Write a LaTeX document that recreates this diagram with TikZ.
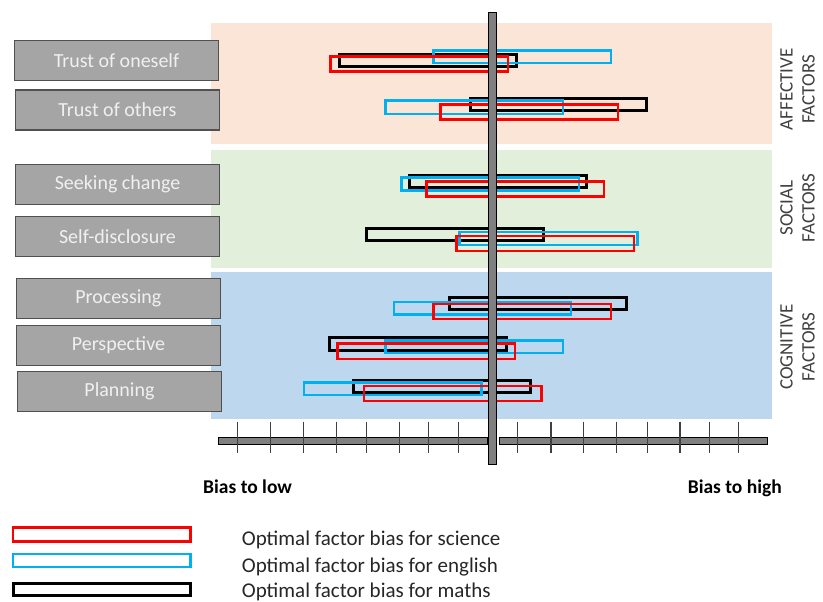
\documentclass[tikz,border=0pt]{standalone}
\usepackage{fontspec}
\setmainfont{Carlito}
\definecolor{affbg}{HTML}{FBE5D6}
\definecolor{socbg}{HTML}{E2EFDA}
\definecolor{cogbg}{HTML}{BDD7EE}
\definecolor{boxfill}{HTML}{A5A5A5}
\definecolor{boxline}{HTML}{505050}
\definecolor{scired}{HTML}{FF0000}
\definecolor{engblue}{HTML}{00B0F0}
\definecolor{axisgray}{HTML}{808080}
\definecolor{tickgray}{HTML}{404040}
\definecolor{grouptext}{HTML}{404040}
\definecolor{legtext}{HTML}{262626}

\begin{document}
\begin{tikzpicture}
			[x=1pt,y=-1pt,every node/.style={inner sep=0pt},
			factor/.style={draw=boxline,fill=boxfill,line width=1.2pt,minimum width=204pt,minimum height=40pt,text=white!94!black,font=\fontsize{20}{22}\selectfont},
			sci/.style={draw=scired,line width=2.5pt},
			eng/.style={draw=engblue,line width=2.5pt},
			mat/.style={draw=black,line width=3pt},
			group/.style={rotate=90,align=center,text=grouptext,font=\fontsize{19}{22}\selectfont},
			axis/.style={draw=black,fill=axisgray,line width=1pt},
			tick/.style={draw=tickgray,line width=1.3pt}]
			\useasboundingbox (0,0) rectangle (823,602);
			% backgrounds
			\fill[affbg] (211,23) rectangle (771.7,144);
			\fill[socbg] (211,150) rectangle (771.7,268);
			\fill[cogbg] (211,272) rectangle (771.7,419);
			
			\node[factor] (oneself) at (116.5,60.4) {Trust of oneself};
			\node[factor] (others) at (117.5,110) {Trust of others};
			\node[factor] (change) at (117.5,184.3) {Seeking change};
			\node[factor] (disclose) at (117.5,236.2) {Self-disclosure};
			\node[factor] (process) at (118.3,298.7) {Processing};
			\node[factor] (persp) at (118.5,345.3) {Perspective};
			\node[factor] (plan) at (119.5,391.2) {Planning};
			
			\node[group] (affective) at (797.5,89.5) {AFFECTIVE\\FACTORS};
			\node[group] (social) at (797.5,208) {SOCIAL\\FACTORS};
			\node[group] (cognitive) at (797.5,347) {COGNITIVE\\FACTORS};
			
			% maths
			\draw[mat] (339.8,54.2) rectangle (516.8,66.2);
			\draw[mat] (470.8,98.8) rectangle (646.8,110.8);
			\draw[mat] (409.5,175.5) rectangle (586.5,187.8);
			\draw[mat] (366.5,228.8) rectangle (543.5,240.8);
			\draw[mat] (449.5,297.2) rectangle (626.5,309.5);
			\draw[mat] (329.2,337.8) rectangle (506.2,350.2);
			\draw[mat] (353.5,380.2) rectangle (530.2,392.2);
			% english
			\draw[eng] (433.6,50.6) rectangle (611,62.8);
			\draw[eng] (385.6,100.6) rectangle (562.8,113.8);
			\draw[eng] (401.3,177.3) rectangle (578.8,190.5);
			\draw[eng] (459.6,232) rectangle (637.4,244.8);
			\draw[eng] (394,302) rectangle (571,314.5);
			\draw[eng] (385.3,340.3) rectangle (562.8,352.8);
			\draw[eng] (304,382.3) rectangle (481.4,394.8);
			% science
			\draw[sci] (330.3,56.3) rectangle (507.8,71.5);
			\draw[sci] (440.6,104.6) rectangle (617.8,119.5);
			\draw[sci] (426.3,181.6) rectangle (603.8,196.5);
			\draw[sci] (456.6,236) rectangle (634,250.8);
			\draw[sci] (433.6,304) rectangle (611,319);
			\draw[sci] (337.6,343.6) rectangle (514.8,358.8);
			\draw[sci] (364,386) rectangle (541.4,401);
			
			% axis
			\draw[axis] (218.3,437.5) rectangle (487.3,444);
			\draw[axis] (499.3,437.5) rectangle (767.3,444);
			\foreach \x in {237.3,270.7,303.3,336.7,366.7,399.3,428.7,458.3,517.3,551,583.3,616.7,647.3,680,709.3,738.7}
				\draw[tick] (\x,421.7) -- (\x,453.3);
			\draw[axis] (488.3,13) rectangle (496,464);
			
			\node[anchor=base west,font=\fontsize{19.5}{22}\selectfont\bfseries] (low) at (203,493) {Bias to low};
			\node[anchor=base east,font=\fontsize{19.5}{22}\selectfont\bfseries] (high) at (782,493) {Bias to high};
			
			% legend
			\draw[sci] (13,527.3) rectangle (190.5,541.7);
			\draw[eng] (13.2,554) rectangle (190.5,567);
			\draw[mat] (13.5,583.2) rectangle (190.2,595.8);
			\node[anchor=base west,text=legtext,font=\fontsize{21}{24}\selectfont] (legsci) at (241.7,545) {Optimal factor bias for science};
			\node[anchor=base west,text=legtext,font=\fontsize{21}{24}\selectfont] (legeng) at (241.7,572.5) {Optimal factor bias for english};
			\node[anchor=base west,text=legtext,font=\fontsize{21}{24}\selectfont] (legmat) at (241.7,597) {Optimal factor bias for maths};
\end{tikzpicture}
\end{document}
